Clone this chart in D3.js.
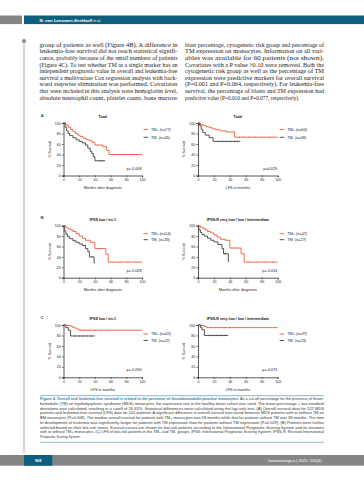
<!DOCTYPE html>
<html><head><meta charset="utf-8">
<script src="https://cdn.jsdelivr.net/npm/d3@7"></script>
<style>
html,body{margin:0;padding:0;background:#fff;}
svg{display:block;}
</style></head>
<body>
<svg id="page" width="364" height="480"></svg>
<script>
// ---------------- DATA ----------------
const panelLetters = ["A", "", "B", "", "C", ""];
const panelTitles = ["Total", "Total", "IPSS low / int-1", "IPSS-R very low / low / intermediate", "IPSS low / int-1", "IPSS-R very low / low / intermediate"];
const posLabels = ["TM+ (n=77)", "TM+ (n=64)", "TM+ (n=54)", "TM+ (n=47)", "TM+ (n=42)", "TM+ (n=37)"];
const negLabels = ["TM- (n=45)", "TM- (n=38)", "TM- (n=33)", "TM- (n=27)", "TM- (n=27)", "TM- (n=23)"];
const pLabels = ["p= 0.008", "p=0.029", "p= 0.028", "p= 0.054", "p= 0.090", "p= 0.073"];
const xTitles = ["Months after diagnosis", "LFS in months", "Months after diagnosis", "Months after diagnosis", "LFS in months", "LFS in months"];
const yTitle = "% Survival";
const xTicks = [0, 20, 40, 60, 80, 100];
const yTicks = [0, 20, 40, 60, 80, 100];

// TM+ curves: event times (months) and survival (%)
const posTimes = [
  [0, 3, 6, 9, 12, 15, 18, 21, 25, 29, 33, 37, 40, 50, 55, 58],
  [0, 3, 6, 10, 14, 18, 22, 28, 35, 46],
  [0, 3, 6, 9, 12, 16, 20, 24, 28, 34, 40, 54, 57],
  [0, 3, 6, 9, 12, 16, 20, 24, 28, 34, 40, 54, 58],
  [0, 5, 8, 11, 14, 17, 20],
  [0, 4, 8, 11]
];
const posSurv = [
  [100, 96, 92, 88, 84, 80, 77, 74, 71, 68, 66, 63, 58, 55, 48, 40],
  [100, 97, 95, 93, 91, 89, 87, 85, 83, 73],
  [100, 96, 94, 92, 89, 85, 80, 76, 72, 68, 56, 45, 30],
  [100, 97, 95, 92, 89, 86, 82, 78, 74, 72, 57, 46, 30],
  [100, 99, 98, 96, 94, 92, 90],
  [100, 99, 97, 95]
];
const posEnd = [100, 100, 100, 100, 100, 100];
const posCensor = [
  [44, 62, 70, 78, 86, 94],
  [52, 57, 64, 72, 80, 90],
  [46, 62, 72, 82, 92],
  [46, 64, 74, 84, 94],
  [22, 26, 30, 34, 40, 48, 57],
  [16, 22, 28, 34, 40, 46, 55]
];

// TM- curves
const negTimes = [
  [0, 2, 4, 6, 8, 12, 16, 20, 24, 28, 31, 34, 36, 38, 40],
  [0, 2, 4, 6, 9, 14, 19],
  [0, 1, 3, 5, 8, 12, 16, 20, 24, 28, 31, 33, 39],
  [0, 1, 3, 5, 8, 12, 16, 20, 25, 30, 32, 38],
  [0, 3, 6, 9],
  [0, 3, 5, 8]
];
const negSurv = [
  [100, 92, 85, 80, 76, 72, 68, 65, 62, 58, 52, 46, 42, 36, 28],
  [100, 95, 88, 82, 77, 72, 65],
  [100, 90, 84, 79, 75, 71, 68, 65, 62, 56, 50, 40, 28],
  [100, 92, 87, 83, 80, 76, 72, 69, 64, 56, 46, 31],
  [100, 95, 90, 79],
  [100, 95, 91, 80]
];
const negEnd = [53, 53, 40, 39, 40, 38];
const negCensor = [
  [46, 50],
  [26, 31, 36, 41, 46, 50],
  [36],
  [34],
  [15, 20, 25, 30, 35],
  [14, 19, 24, 29, 34]
];

const headerAuthor = "N. van Leeuwen-Kerkhoff";
const headerEtAl = "et al.";
const leftColumn = [
  "group of patients as well (Figure 4B). A difference in",
  "leukemia-free survival did not reach statistical signifi-",
  "cance, probably because of the small numbers of patients",
  "(Figure 4C). To test whether TM as a single marker has an",
  "independent prognostic value in overall and leukemia-free",
  "survival a multivariate Cox regression analysis with back-",
  "ward stepwise elimination was performed. Covariates",
  "that were included in this analysis were hemoglobin level,",
  "absolute neutrophil count, platelet count, bone marrow"
];
const rightColumn = [
  "blast percentage, cytogenetic risk group and percentage of",
  "TM expression on monocytes. Information on all vari-",
  "ables was available for 60 patients (not shown).",
  "Covariates with a P value >0.10 were removed. Both the",
  "cytogenetic risk group as well as the percentage of TM",
  "expression were predictive markers for overall survival",
  "(P=0.001 and P=0.064, respectively). For leukemia-free",
  "survival, the percentage of blasts and TM expression had",
  "predictive value (P=0.010 and P=0.077, respectively)."
];
const captionLead = "Figure 4. Overall and leukemia-free survival is related to the presence of thrombomodulin-positive monocytes.";
const captionLines = [
  " As a cut-off percentage for the presence of throm-",
  "bomodulin (TM) on myelodysplastic syndrome (MDS) monocytes, the expression rate in the healthy donor cohort was used. The mean percentage + two standard",
  "deviations was calculated, resulting in a cutoff of 26.63%. Statistical differences were calculated using the log-rank test. (A) Overall survival data for 122 MDS",
  "patients and leukemia-free survival (LFS) data for 102 patients. A significant difference in overall survival was found between MDS patients with or without TM on",
  "BM monocytes (P=0.008). The median overall survival for patients with TM+ monocytes was 58 months while that for patients without TM was 38 months. The time",
  "to development of leukemia was significantly longer for patients with TM expression than for patients without TM expression (P=0.029). (B) Patients were further",
  "selected based on their low-risk status. Survival curves are shown for low-risk patients according to the International Prognostic Scoring System and its revisions",
  "with or without TM+ monocytes. (C) LFS of low-risk patients in the TM+ and TM- groups. IPSS: International Prognostic Scoring System; IPSS-R: Revised International",
  "Prognostic Scoring System."
];
const pageNumber = "968";
const journalRef = "haematologica | 2020; 105(4)";

// ---------------- STYLE / LAYOUT ----------------
const TEAL = "#0e5f7e";
const RED = "#ee5b3b";
const DARK = "#3f3f3f";
const GRAYBAR = "#858585";
const SANS = "'Liberation Sans', Arial, sans-serif";
const SERIF = "'Liberation Serif', 'Times New Roman', serif";

const svg = d3.select("#page");
svg.append("rect").attr("width", 364).attr("height", 480).attr("fill", "#fff");

// header
svg.append("rect").attr("x", 0).attr("y", 15.5).attr("width", 22).attr("height", 8.6).attr("fill", GRAYBAR);
svg.append("rect").attr("x", 24).attr("y", 15.5).attr("width", 340).attr("height", 8.6).attr("fill", TEAL);
const ht = svg.append("text").attr("x", 39.5).attr("y", 21.6).attr("fill", "#fff")
  .style("font-family", SANS).style("font-size", "4.4px");
ht.append("tspan").attr("font-weight", "bold").text(headerAuthor);
ht.append("tspan").attr("font-size", "3.6px").text(" " + headerEtAl);

// side rule
svg.append("line").attr("x1", 24).attr("x2", 24).attr("y1", 41).attr("y2", 453)
  .attr("stroke", "#cfcfcf").attr("stroke-width", 1.6);
svg.append("circle").attr("cx", 24).attr("cy", 41).attr("r", 2).attr("fill", "#8a8a8a");

// body text columns
function justified(lines, x0, x1, y0, dy, size, family, color, lastNatural) {
  lines.forEach((ln, i) => {
    const t = svg.append("text").attr("x", x0).attr("y", y0 + i * dy)
      .attr("fill", color).style("font-family", family).style("font-size", size + "px")
      .text(ln);
    if (!(lastNatural && i === lines.length - 1)) {
      t.attr("textLength", x1 - x0).attr("lengthAdjust", "spacingAndGlyphs");
    }
  });
}
justified(leftColumn, 39.5, 177.5, 46.8, 6.6, 5.3, SERIF, "#222", false);
justified(rightColumn, 185, 324, 46.8, 6.6, 5.3, SERIF, "#222", true);

// ---------------- PLOTS ----------------
const colX = [[63.5, 142], [198, 277.7]];
const rowY = [[175.5, 123], [277.7, 225.7], [377.3, 325]];
const legendDy = [[6.5, 14.3], [8, 14], [9, 15.5]];

function stepValue(times, surv, t) {
  let v = surv[0];
  for (let i = 0; i < times.length; i++) if (times[i] <= t) v = surv[i];
  return v;
}

for (let k = 0; k < 6; k++) {
  const col = k % 2, row = Math.floor(k / 2);
  const x = d3.scaleLinear().domain([0, 100]).range(colX[col]);
  const y = d3.scaleLinear().domain([0, 100]).range(rowY[row]);
  const g = svg.append("g");

  // axes
  const xa = g.append("g").attr("transform", `translate(0,${y(0)})`)
    .call(d3.axisBottom(x).tickValues(xTicks).tickSize(1.6).tickPadding(1.2));
  const ya = g.append("g").attr("transform", `translate(${x(0)},0)`)
    .call(d3.axisLeft(y).tickValues(yTicks).tickSize(1.6).tickPadding(1.2));
  [xa, ya].forEach(a => {
    a.select(".domain").attr("stroke", "#111").attr("stroke-width", 0.7);
    a.selectAll(".tick line").attr("stroke", "#111").attr("stroke-width", 0.6);
    a.selectAll(".tick text").attr("fill", "#222").style("font-family", SANS).style("font-size", "3.5px");
  });

  // axis titles
  g.append("text").attr("x", (colX[col][0] + colX[col][1]) / 2).attr("y", y(0) + 13.3)
    .attr("text-anchor", "middle").attr("fill", "#222")
    .style("font-family", SANS).style("font-size", "3.8px").text(xTitles[k]);
  const ymid = (rowY[row][0] + rowY[row][1]) / 2;
  g.append("text").attr("transform", `translate(${x(0) - 13},${ymid}) rotate(-90)`)
    .attr("text-anchor", "middle").attr("fill", "#222")
    .style("font-family", SANS).style("font-size", "3.5px").text(yTitle);

  // title
  g.append("text").attr("x", (colX[col][0] + colX[col][1]) / 2).attr("y", y(100) - 5)
    .attr("text-anchor", "middle").attr("fill", "#111").attr("font-weight", "bold")
    .style("font-family", SANS).style("font-size", "3.7px").text(panelTitles[k]);

  // panel letter
  if (panelLetters[k]) {
    g.append("text").attr("x", 40.5).attr("y", y(100) - 6.3).attr("fill", TEAL)
      .attr("font-weight", "bold").style("font-family", SANS).style("font-size", "4.4px")
      .text(panelLetters[k]);
  }

  // curves
  const line = d3.line().x(d => x(d[0])).y(d => y(d[1])).curve(d3.curveStepAfter);
  const series = [
    {t: posTimes[k], s: posSurv[k], end: posEnd[k], c: posCensor[k], color: RED},
    {t: negTimes[k], s: negSurv[k], end: negEnd[k], c: negCensor[k], color: DARK}
  ];
  series.forEach(sr => {
    const pts = sr.t.map((t, i) => [t, sr.s[i]]);
    pts.push([sr.end, sr.s[sr.s.length - 1]]);
    g.append("path").attr("d", line(pts)).attr("fill", "none")
      .attr("stroke", sr.color).attr("stroke-width", 0.9);
    sr.c.forEach(ct => {
      const v = stepValue(sr.t, sr.s, ct);
      g.append("line").attr("x1", x(ct)).attr("x2", x(ct))
        .attr("y1", y(v) - 0.9).attr("y2", y(v) + 0.9)
        .attr("stroke", sr.color).attr("stroke-width", 0.5);
    });
  });

  // legend
  const lx = colX[col][1] + (col === 0 ? 1.5 : 2);
  [[posLabels[k], RED], [negLabels[k], DARK]].forEach((d, i) => {
    const ly = y(100) + legendDy[row][i];
    g.append("line").attr("x1", lx).attr("x2", lx + 4.5).attr("y1", ly).attr("y2", ly)
      .attr("stroke", d[1]).attr("stroke-width", 0.9);
    g.append("text").attr("x", lx + 7.5).attr("y", ly + 1.3).attr("fill", "#222")
      .style("font-family", SANS).style("font-size", "3.8px").text(d[0]);
  });

  // p value
  g.append("text").attr("x", colX[col][1] - 0.5).attr("y", y(0) - 6)
    .attr("text-anchor", "end").attr("fill", "#222")
    .style("font-family", SANS).style("font-size", "3.8px").text(pLabels[k]);
}

// ---------------- CAPTION ----------------
svg.append("line").attr("x1", 40).attr("x2", 324).attr("y1", 395.7).attr("y2", 395.7)
  .attr("stroke", "#3f8aa6").attr("stroke-width", 0.6);
svg.append("line").attr("x1", 40).attr("x2", 324).attr("y1", 442.3).attr("y2", 442.3)
  .attr("stroke", "#3f8aa6").attr("stroke-width", 0.6);
captionLines.forEach((ln, i) => {
  const t = svg.append("text").attr("x", 40).attr("y", 400.2 + i * 4.72)
    .attr("fill", "#333").style("font-family", SANS).style("font-size", "3.3px");
  if (i === 0) {
    t.append("tspan").attr("fill", "#2a7fa6").attr("font-weight", "bold").text(captionLead);
    t.append("tspan").text(ln);
  } else {
    t.text(ln);
  }
  if (i < captionLines.length - 1) t.attr("textLength", 284).attr("lengthAdjust", "spacingAndGlyphs");
});

// ---------------- FOOTER ----------------
svg.append("rect").attr("x", 0).attr("y", 455).attr("width", 364).attr("height", 10.7).attr("fill", GRAYBAR);
svg.append("rect").attr("x", 24).attr("y", 455).attr("width", 28.3).attr("height", 10.7).attr("fill", TEAL);
svg.append("text").attr("x", 38.2).attr("y", 461.7).attr("text-anchor", "middle").attr("fill", "#fff")
  .attr("font-weight", "bold").style("font-family", SANS).style("font-size", "3.9px").text(pageNumber);
svg.append("text").attr("x", 321.5).attr("y", 461.6).attr("text-anchor", "end").attr("fill", "#fff")
  .style("font-family", SANS).style("font-size", "4.1px").text(journalRef);
</script>
</body></html>
